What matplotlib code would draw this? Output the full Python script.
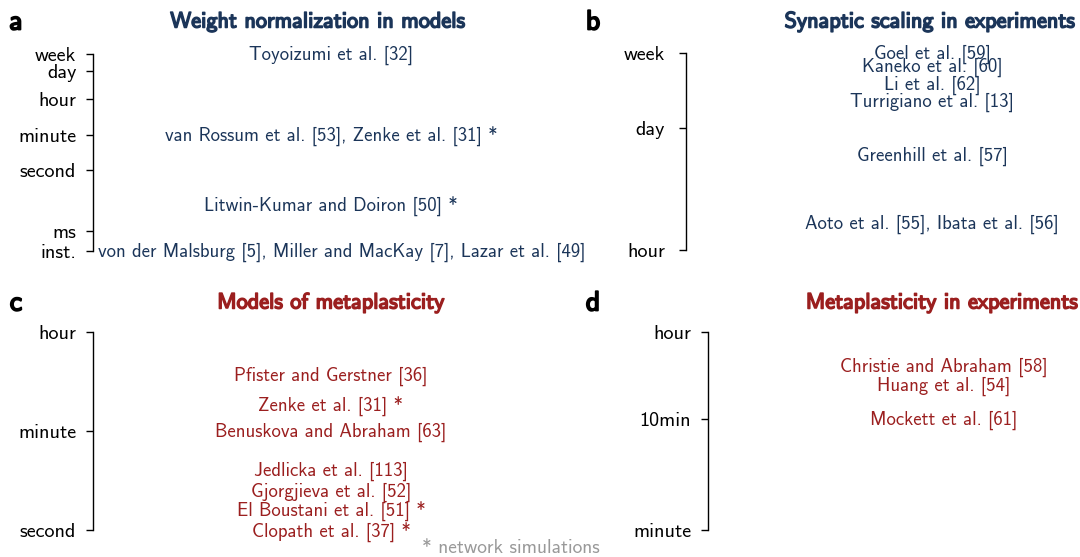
import matplotlib
matplotlib.use("Agg")
import matplotlib.pyplot as plt
import matplotlib.patheffects as pe
from matplotlib.transforms import blended_transform_factory, offset_copy

plt.rcParams['font.family'] = ['cmss10', 'DejaVu Sans']
plt.rcParams['axes.unicode_minus'] = False

W, H = 1080, 557
NAVY = '#1b3559'
RED = '#9b1f1f'

# time values in seconds
WEEK, DAY, HOUR, MINUTE, SECOND = 604800, 86400, 3600, 60, 1

# panel a: weight normalization in models
a_ticks = [WEEK, DAY, HOUR, MINUTE, SECOND, 1e-3, 1e-4]
a_ticklabels = ['week', 'day', 'hour', 'minute', 'second', 'ms', 'inst.']
a_labels = ['Toyoizumi et al. [32]',
            'van Rossum et al. [53], Zenke et al. [31] *',
            'Litwin-Kumar and Doiron [50] *',
            'von der Malsburg [5], Miller and MacKay [7], Lazar et al. [49]']
a_times = [WEEK, MINUTE, 0.02, 1e-4]

# panel b: synaptic scaling in experiments
b_ticks = [WEEK, DAY, HOUR]
b_ticklabels = ['week', 'day', 'hour']
b_labels = ['Goel et al. [59]', 'Kaneko et al. [60]', 'Li et al. [62]',
            'Turrigiano et al. [13]', 'Greenhill et al. [57]',
            'Aoto et al. [55], Ibata et al. [56]']
b_times = [WEEK, 5 * DAY, 3.1 * DAY, 2 * DAY, 12 * HOUR, 2 * HOUR]

# panel c: models of metaplasticity
c_ticks = [HOUR, MINUTE, SECOND]
c_ticklabels = ['hour', 'minute', 'second']
c_labels = ['Pfister and Gerstner [36]', 'Zenke et al. [31] *',
            'Benuskova and Abraham [63]', 'Jedlicka et al. [113]',
            'Gjorgjieva et al. [52]', 'El Boustani et al. [51] *',
            'Clopath et al. [37] *']
c_times = [600, 180, 60, 12, 5, 2.3, 1]

# panel d: metaplasticity in experiments
d_ticks = [HOUR, 600, MINUTE]
d_ticklabels = ['hour', '10min', 'minute']
d_labels = ['Christie and Abraham [58]', 'Huang et al. [54]',
            'Mockett et al. [61]']
d_times = [1800, 1200, 600]

fig = plt.figure(figsize=(W / 100, H / 100), dpi=100)


def panel(letter, title, color, ticks, ticklabels, labels, times,
          spine_x, y_top, y_bot, text_x, title_x, title_y, letter_x, pad):
    ax = fig.add_axes([spine_x / W, 1 - y_bot / H, 0.001, (y_bot - y_top) / H])
    ax.set_yscale('log')
    ax.set_ylim(min(ticks), max(ticks))
    ax.set_yticks(ticks)
    ax.set_yticklabels(ticklabels)
    ax.yaxis.set_minor_locator(matplotlib.ticker.NullLocator())
    ax.tick_params(axis='y', length=5, width=1, pad=pad, labelsize=14.5)
    ax.set_xticks([])
    for s in ['top', 'right', 'bottom']:
        ax.spines[s].set_visible(False)
    ax.spines['left'].set_linewidth(1)
    ax.patch.set_visible(False)

    tr = blended_transform_factory(fig.transFigure, ax.transData)
    tr = offset_copy(tr, fig=fig, y=-1.5, units='dots')
    texts = []
    for lab, t in zip(labels, times):
        txt = ax.text(text_x / W, t, lab, transform=tr, ha='center',
                      va='center', color=color, fontsize=13.5, clip_on=False)
        texts.append(txt)

    fig.text(title_x / W, 1 - title_y / H, title, ha='center', va='center',
             color=color, fontsize=16,
             path_effects=[pe.withStroke(linewidth=1.1, foreground=color)])
    fig.text(letter_x / W, 1 - title_y / H, letter, ha='center', va='center',
             color='black', fontsize=20,
             path_effects=[pe.withStroke(linewidth=1.3, foreground='black')])
    return texts


pa = panel('a', 'Weight normalization in models', NAVY, a_ticks, a_ticklabels,
           a_labels, a_times, 93, 54, 251, 331, 318, 22, 16, 7)
panel('b', 'Synaptic scaling in experiments', NAVY, b_ticks, b_ticklabels,
      b_labels, b_times, 686, 53, 250, 932, 930, 22, 593, 10)
panel('c', 'Models of metaplasticity', RED, c_ticks, c_ticklabels,
      c_labels, c_times, 93, 332, 530, 331, 331, 303, 16, 7)
panel('d', 'Metaplasticity in experiments', RED, d_ticks, d_ticklabels,
      d_labels, d_times, 708, 332, 530, 944, 942, 303, 593, 7)

fig.text(511 / W, 1 - 548 / H, '* network simulations', ha='center',
         va='center', color='#999999', fontsize=14)

# keep long labels clear of the axis line
fig.canvas.draw()
r = fig.canvas.get_renderer()
for txt in pa:
    bb = txt.get_window_extent(r)
    if bb.x0 < 97:
        x, y = txt.get_position()
        txt.set_position((x + (98 - bb.x0) / W, y))

fig.savefig('out.png', dpi=100)
